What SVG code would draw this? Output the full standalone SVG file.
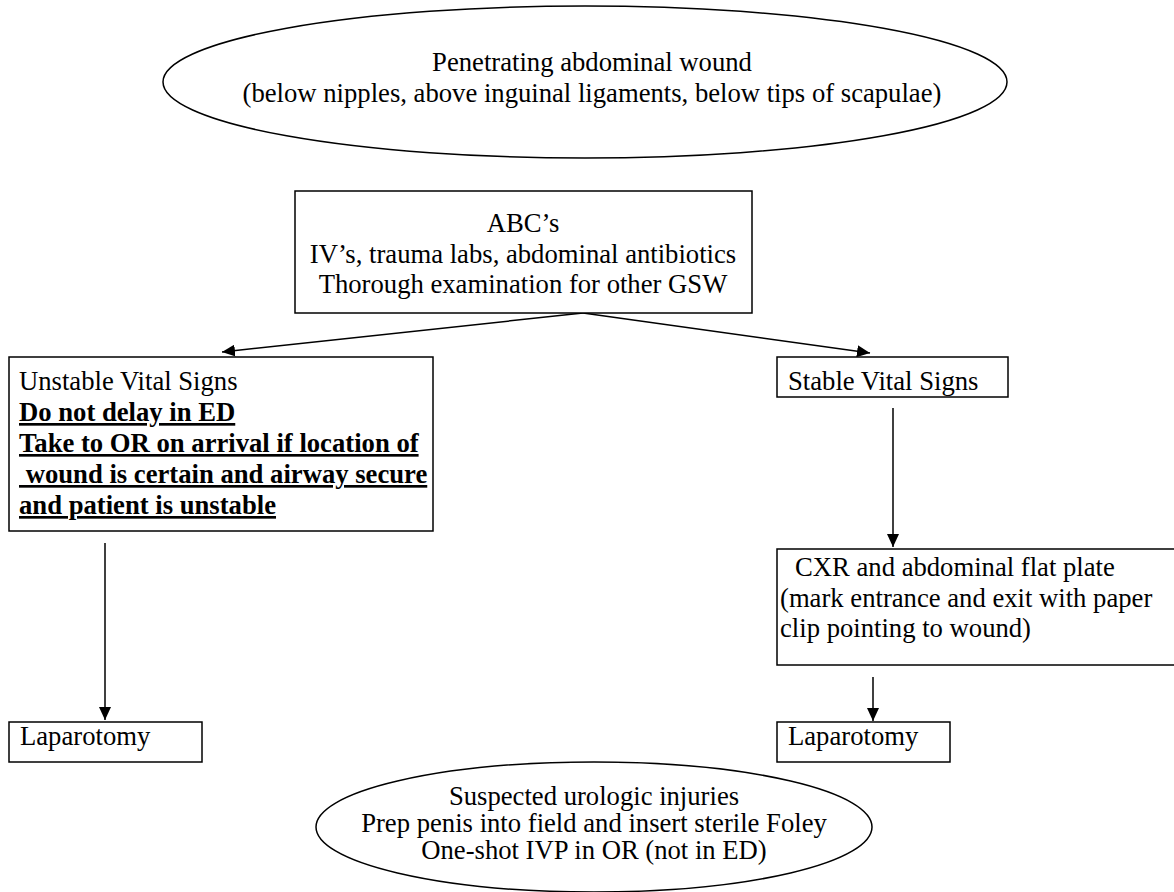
<svg xmlns="http://www.w3.org/2000/svg" width="1174" height="892" viewBox="0 0 1174 892">
<style>
.s{fill:#fff;stroke:#000;stroke-width:1.5}
text{font-family:"Liberation Serif","Times New Roman",serif;font-size:26.67px;fill:#000}
.c{text-anchor:middle}
.b{font-weight:bold;text-decoration:underline}
.a{fill:none;stroke:#000;stroke-width:1.5;marker-end:url(#ah)}
</style>
<defs>
<marker id="ah" markerUnits="userSpaceOnUse" markerWidth="14" markerHeight="12" refX="13" refY="6" orient="auto">
<path d="M0,0 L13,6 L0,12 Z" fill="#000"/>
</marker>
</defs>
<g id="connectors">
<line class="a" x1="583" y1="313" x2="222" y2="352"/>
<line class="a" x1="583" y1="313" x2="870" y2="353"/>
<line class="a" x1="893" y1="408" x2="893" y2="547"/>
<line class="a" x1="873" y1="677" x2="873" y2="721"/>
<line class="a" x1="105" y1="543" x2="105" y2="720"/>
</g>
<g id="n-start">
<ellipse class="s" cx="585" cy="82" rx="422" ry="76"/>
<text class="c" x="592" y="71">Penetrating abdominal wound</text>
<text class="c" x="592" y="102">(below nipples, above inguinal ligaments, below tips of scapulae)</text>
</g>
<g id="n-abc">
<rect class="s" x="295" y="191" width="457" height="122"/>
<text class="c" x="523" y="232">ABC’s</text>
<text class="c" x="523" y="263">IV’s, trauma labs, abdominal antibiotics</text>
<text class="c" x="523" y="293">Thorough examination for other GSW</text>
</g>
<g id="n-unstable">
<rect class="s" x="9" y="357" width="424" height="174"/>
<text x="19" y="390">Unstable Vital Signs</text>
<text class="b" x="19" y="421">Do not delay in ED</text>
<text class="b" x="19" y="452">Take to OR on arrival if location of</text>
<text class="b" x="19" y="483" xml:space="preserve"> wound is certain and airway secure</text>
<text class="b" x="19" y="514">and patient is unstable</text>
</g>
<g id="n-stable">
<rect class="s" x="777" y="357" width="231" height="40"/>
<text x="788" y="390">Stable Vital Signs</text>
</g>
<g id="n-cxr">
<rect class="s" x="777" y="549" width="420" height="116"/>
<text x="795" y="576">CXR and abdominal flat plate</text>
<text x="780" y="607">(mark entrance and exit with paper</text>
<text x="780" y="637">clip pointing to wound)</text>
</g>
<g id="n-lap-left">
<rect class="s" x="9" y="722" width="193" height="40"/>
<text x="20" y="745">Laparotomy</text>
</g>
<g id="n-lap-right">
<rect class="s" x="777" y="722" width="173" height="40"/>
<text x="788" y="745">Laparotomy</text>
</g>
<g id="n-uro">
<ellipse class="s" cx="594" cy="827" rx="278" ry="65"/>
<text class="c" x="594" y="805">Suspected urologic injuries</text>
<text class="c" x="594" y="832">Prep penis into field and insert sterile Foley</text>
<text class="c" x="594" y="859">One-shot IVP in OR (not in ED)</text>
</g>
</svg>
